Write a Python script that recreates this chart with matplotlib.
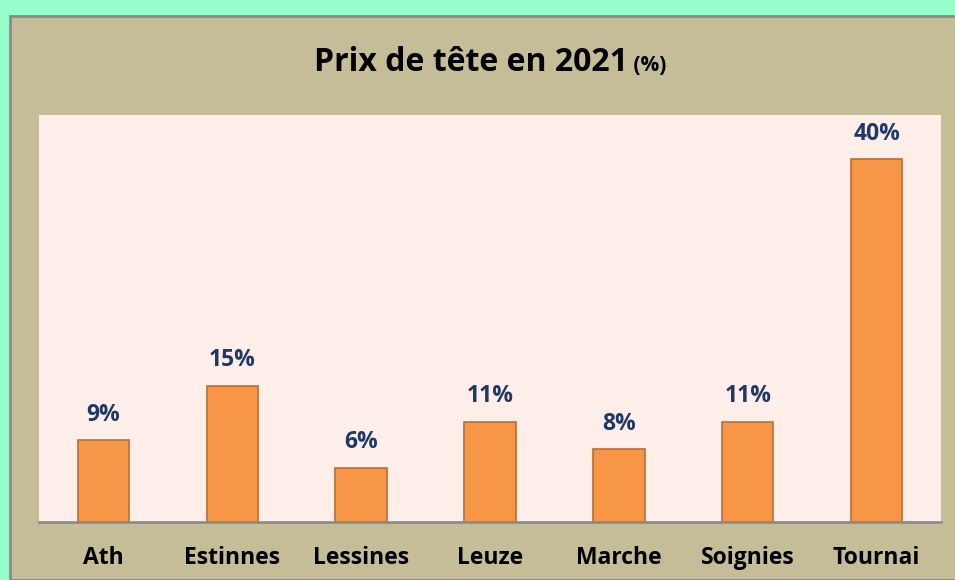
import matplotlib
matplotlib.use('Agg')
import matplotlib.pyplot as plt
from matplotlib.patches import Rectangle

communes = ['Ath', 'Estinnes', 'Lessines', 'Leuze', 'Marche', 'Soignies', 'Tournai']
pourcentages = [9, 15, 6, 11, 8, 11, 40]
etiquettes = ['9%', '15%', '6%', '11%', '8%', '11%', '40%']

plt.rcParams['font.family'] = ['Open Sans', 'DejaVu Sans']

W, H = 955, 580
fig = plt.figure(figsize=(W / 100, H / 100), dpi=100, facecolor='#97fecb')

# tan panel with grey border, behind the axes
fig.patches.append(Rectangle((9.5 / W, 0), 1, 1 - 15.5 / H, transform=fig.transFigure,
                             facecolor='#c4bd97', edgecolor='#8a8a8a', linewidth=2, zorder=-10))

ax = fig.add_axes([39 / W, (H - 522) / H, (941 - 39) / W, (522 - 115) / H])
ax.set_facecolor('#fdeeea')

x = range(len(communes))
ax.bar(x, pourcentages, width=0.40, color='#f79646', edgecolor='#b86f35', linewidth=1.2, zorder=2)
for i, (v, lab) in enumerate(zip(pourcentages, etiquettes)):
    ax.annotate(lab, (i, v), xytext=(0, 10), textcoords='offset points', ha='center', va='bottom',
                fontsize=16.5, fontweight='bold', color='#1f3864')

ax.set_xlim(-0.5, len(communes) - 0.5)
ax.set_ylim(0, 44.9)
ax.set_xticks(list(x))
ax.set_xticklabels(communes, fontsize=16.5, fontweight='bold', color='black')
ax.tick_params(axis='x', length=0, pad=17)
ax.set_yticks([])
for s in ['top', 'right', 'left']:
    ax.spines[s].set_visible(False)
ax.spines['bottom'].set_color('#8c8c8c')
ax.spines['bottom'].set_linewidth(2)

# title in two parts: main text and smaller "(%)"
r = fig.canvas.get_renderer()
t1 = fig.text(0, 1 - 71 / H, 'Prix de tête en 2021', fontsize=23, fontweight='bold', va='baseline')
t2 = fig.text(0, 1 - 71 / H, ' (%)', fontsize=15, fontweight='bold', va='baseline')
w1 = t1.get_window_extent(r).width
w2 = t2.get_window_extent(r).width
x0 = 490 - (w1 + w2) / 2
t1.set_x(x0 / W)
t2.set_x((x0 + w1) / W)

fig.savefig('out.png', dpi=100, facecolor=fig.get_facecolor())
